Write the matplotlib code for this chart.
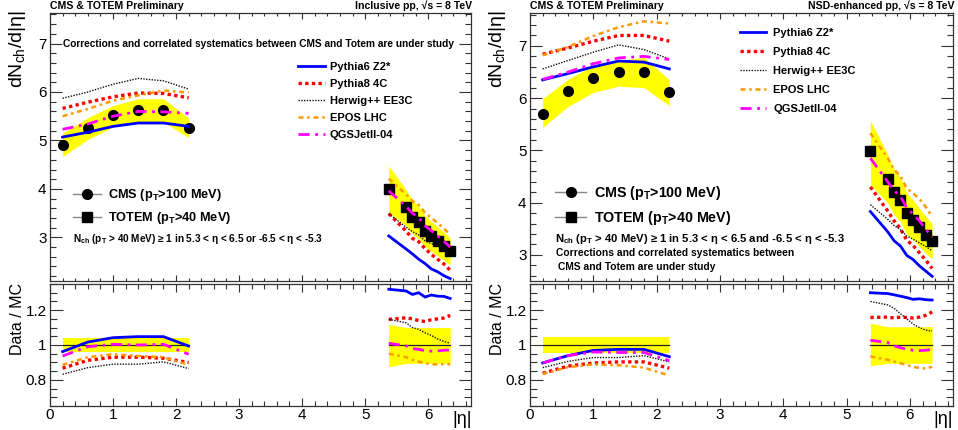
import matplotlib
matplotlib.use("Agg")
import matplotlib.pyplot as plt
from matplotlib.lines import Line2D
from matplotlib.ticker import MultipleLocator

plt.rcParams['font.family'] = ['Liberation Sans', 'DejaVu Sans']
plt.rcParams['mathtext.fontset'] = 'custom'
plt.rcParams['mathtext.rm'] = 'Liberation Sans'
plt.rcParams['mathtext.it'] = 'Liberation Sans:italic'
plt.rcParams['mathtext.bf'] = 'Liberation Sans:bold'

# ---- data ----
eta_cms = [0.2, 0.6, 1.0, 1.4, 1.8, 2.2]
eta_totem = [5.375, 5.65, 5.75, 5.85, 5.95, 6.05, 6.15, 6.25, 6.35]

model_names = ["Pythia6 Z2*", "Pythia8 4C", "Herwig++ EE3C", "EPOS LHC", "QGSJetII-04"]

# inclusive pp
incl_cms = [4.90, 5.26, 5.53, 5.62, 5.62, 5.26]
incl_cms_lo = [4.67, 5.02, 5.28, 5.38, 5.38, 5.06]
incl_cms_hi = [5.15, 5.47, 5.72, 5.86, 5.86, 5.46]
incl_totem = [4.00, 3.62, 3.43, 3.32, 3.14, 3.03, 2.93, 2.83, 2.72]
incl_totem_lo = [3.52, 3.24, 3.07, 2.97, 2.81, 2.71, 2.62, 2.53, 2.43]
incl_totem_hi = [4.48, 3.98, 3.77, 3.65, 3.45, 3.33, 3.22, 3.11, 2.99]

incl_mc_cms = [
    [5.07, 5.17, 5.29, 5.36, 5.36, 5.29],
    [5.66, 5.79, 5.90, 5.98, 5.97, 5.88],
    [5.87, 6.00, 6.16, 6.28, 6.23, 6.06],
    [5.50, 5.65, 5.82, 5.93, 6.03, 5.99],
    [5.23, 5.34, 5.50, 5.60, 5.59, 5.56],
]
incl_mc_totem = [
    [3.03, 2.76, 2.66, 2.55, 2.46, 2.35, 2.29, 2.21, 2.15],
    [3.49, 3.13, 2.98, 2.91, 2.77, 2.65, 2.55, 2.45, 2.32],
    [3.49, 3.21, 3.12, 3.05, 2.93, 2.87, 2.83, 2.77, 2.69],
    [4.21, 3.89, 3.75, 3.67, 3.51, 3.40, 3.30, 3.18, 3.06],
    [3.96, 3.64, 3.50, 3.41, 3.24, 3.14, 3.03, 2.92, 2.80],
]
incl_ratio_cms = [
    [0.962, 1.017, 1.042, 1.048, 1.048, 0.994],
    [0.867, 0.912, 0.930, 0.930, 0.924, 0.900],
    [0.832, 0.870, 0.890, 0.890, 0.903, 0.865],
    [0.886, 0.930, 0.947, 0.937, 0.930, 0.886],
    [0.937, 0.990, 1.004, 1.000, 1.004, 0.947],
]
incl_ratio_totem = [
    [1.320, 1.310, 1.290, 1.300, 1.275, 1.287, 1.280, 1.279, 1.267],
    [1.147, 1.156, 1.150, 1.140, 1.135, 1.145, 1.150, 1.155, 1.170],
    [1.147, 1.128, 1.100, 1.090, 1.070, 1.055, 1.035, 1.020, 1.010],
    [0.950, 0.930, 0.915, 0.905, 0.895, 0.890, 0.888, 0.890, 0.890],
    [1.010, 0.995, 0.980, 0.975, 0.968, 0.965, 0.966, 0.970, 0.972],
]
incl_rband_cms_lo = [0.957] * 6
incl_rband_cms_hi = [1.040] * 6
incl_rband_totem_lo = [0.875, 0.895, 0.895, 0.895, 0.895, 0.895, 0.895, 0.895, 0.895]
incl_rband_totem_hi = [1.118, 1.100, 1.100, 1.100, 1.100, 1.100, 1.100, 1.100, 1.100]

# NSD-enhanced pp
nsd_cms = [5.70, 6.13, 6.39, 6.50, 6.51, 6.11]
nsd_cms_lo = [5.44, 5.84, 6.11, 6.23, 6.20, 5.86]
nsd_cms_hi = [5.99, 6.36, 6.63, 6.72, 6.78, 6.35]
nsd_totem = [4.98, 4.46, 4.21, 4.06, 3.80, 3.67, 3.53, 3.39, 3.26]
nsd_totem_lo = [4.35, 3.99, 3.77, 3.63, 3.40, 3.28, 3.16, 3.03, 2.92]
nsd_totem_hi = [5.57, 4.92, 4.64, 4.48, 4.19, 4.05, 3.89, 3.74, 3.60]

nsd_mc_cms = [
    [6.35, 6.47, 6.60, 6.71, 6.69, 6.56],
    [6.84, 6.96, 7.09, 7.20, 7.20, 7.09],
    [6.56, 6.72, 6.88, 7.02, 6.93, 6.75],
    [6.82, 6.98, 7.19, 7.36, 7.47, 7.43],
    [6.36, 6.50, 6.66, 6.77, 6.80, 6.74],
]
nsd_mc_totem = [
    [3.83, 3.44, 3.27, 3.17, 2.99, 2.91, 2.79, 2.69, 2.59],
    [4.30, 3.84, 3.65, 3.50, 3.28, 3.18, 3.04, 2.90, 2.74],
    [3.96, 3.68, 3.56, 3.48, 3.36, 3.30, 3.23, 3.16, 3.08],
    [5.33, 4.85, 4.63, 4.51, 4.27, 4.18, 4.07, 3.92, 3.73],
    [4.85, 4.40, 4.23, 4.12, 3.90, 3.78, 3.65, 3.49, 3.34],
]
nsd_ratio_cms = [
    [0.897, 0.939, 0.969, 0.975, 0.975, 0.933],
    [0.838, 0.879, 0.897, 0.903, 0.903, 0.867],
    [0.870, 0.906, 0.928, 0.928, 0.939, 0.903],
    [0.834, 0.873, 0.888, 0.884, 0.870, 0.825],
    [0.897, 0.939, 0.960, 0.957, 0.957, 0.910],
]
nsd_ratio_totem = [
    [1.300, 1.295, 1.288, 1.280, 1.272, 1.262, 1.265, 1.260, 1.258],
    [1.158, 1.160, 1.155, 1.160, 1.158, 1.155, 1.160, 1.170, 1.190],
    [1.250, 1.230, 1.210, 1.180, 1.150, 1.120, 1.100, 1.085, 1.080],
    [0.935, 0.915, 0.905, 0.895, 0.885, 0.875, 0.868, 0.865, 0.875],
    [1.027, 1.014, 0.995, 0.985, 0.975, 0.970, 0.968, 0.970, 0.975],
]
nsd_rband_cms_lo = [0.955] * 6
nsd_rband_cms_hi = [1.045] * 6
nsd_rband_totem_lo = [0.880, 0.895, 0.895, 0.895, 0.895, 0.895, 0.895, 0.895, 0.895]
nsd_rband_totem_hi = [1.125, 1.105, 1.105, 1.105, 1.105, 1.105, 1.105, 1.105, 1.105]

# ---- styles ----
styles = [
    dict(color='#0000ff', ls='-', lw=2.0),
    dict(color='#ff0000', ls=(0, (1, 1)), lw=2.4),
    dict(color='#111111', ls=(0, (1, 1)), lw=1.0),
    dict(color='#ff9900', ls=(0, (2, 1.5, 1, 1.5)), lw=1.8),
    dict(color='#ff00ff', ls=(0, (4, 2, 1, 2)), lw=2.0),
]
YEL = '#ffff00'
W, H = 958, 430


def fx(x):
    return x / W


def fy(y):
    return 1 - y / H


def style_axes(ax, ymaj, ymin, ylen, xlen):
    ax.set_xlim(0, 6.68)
    ax.xaxis.set_major_locator(MultipleLocator(1))
    ax.xaxis.set_minor_locator(MultipleLocator(0.2))
    ax.yaxis.set_major_locator(MultipleLocator(ymaj))
    ax.yaxis.set_minor_locator(MultipleLocator(ymin))
    ax.tick_params(which='both', direction='in', top=True, right=True,
                   labelsize=11, width=0.8, color='#333333')
    ax.tick_params(axis='y', which='major', length=ylen[0], pad=2.5)
    ax.tick_params(axis='y', which='minor', length=ylen[1])
    ax.tick_params(axis='x', which='major', length=xlen[0], pad=1.5)
    ax.tick_params(axis='x', which='minor', length=xlen[1])
    for s in ax.spines.values():
        s.set_linewidth(0.9)
        s.set_color('#333333')


def draw_panel(x0, x1, ylo, d):
    axm = fig.add_axes([fx(x0), fy(281), fx(x1 - x0), 268 / H])
    axr = fig.add_axes([fx(x0), fy(406), fx(x1 - x0), 122 / H])

    # main pad
    axm.fill_between(eta_cms, d['cms_lo'], d['cms_hi'], color=YEL, lw=0)
    axm.fill_between(eta_totem, d['tot_lo'], d['tot_hi'], color=YEL, lw=0)
    axm.plot(eta_cms, d['cms'], 'o', color='black', ms=7, zorder=3)
    axm.plot(eta_totem, d['tot'], 's', color='black', ms=7.5, zorder=3)
    for i, st in enumerate(styles):
        axm.plot(eta_cms, d['mc_cms'][i], zorder=4, **st)
        axm.plot(eta_totem, d['mc_tot'][i], zorder=4, **st)
    axm.set_ylim(ylo, 7.63)
    style_axes(axm, 1, 0.2, (8.5, 4.5), (4, 2.5))
    axm.tick_params(labelbottom=False)

    # ratio pad
    axr.fill_between(eta_cms, d['rb_cms_lo'], d['rb_cms_hi'], color=YEL, lw=0)
    axr.fill_between(eta_totem, d['rb_tot_lo'], d['rb_tot_hi'], color=YEL, lw=0)
    axr.plot(eta_cms, [1] * len(eta_cms), color='#222222', lw=0.9, zorder=2)
    axr.plot(eta_totem, [1] * len(eta_totem), color='#222222', lw=0.9, zorder=2)
    for i, st in enumerate(styles):
        axr.plot(eta_cms, d['r_cms'][i], zorder=3, **st)
        axr.plot(eta_totem, d['r_tot'][i], zorder=3, **st)
    axr.set_ylim(0.65, 1.35)
    style_axes(axr, 0.2, 0.05, (9, 5), (6, 3.5))
    axr.yaxis.set_major_formatter(plt.FuncFormatter(lambda v, p: ('%g' % round(v, 2))))
    return axm, axr


fig = plt.figure(figsize=(9.58, 4.30), dpi=100)

incl = dict(cms=incl_cms, cms_lo=incl_cms_lo, cms_hi=incl_cms_hi,
            tot=incl_totem, tot_lo=incl_totem_lo, tot_hi=incl_totem_hi,
            mc_cms=incl_mc_cms, mc_tot=incl_mc_totem,
            r_cms=incl_ratio_cms, r_tot=incl_ratio_totem,
            rb_cms_lo=incl_rband_cms_lo, rb_cms_hi=incl_rband_cms_hi,
            rb_tot_lo=incl_rband_totem_lo, rb_tot_hi=incl_rband_totem_hi)
nsd = dict(cms=nsd_cms, cms_lo=nsd_cms_lo, cms_hi=nsd_cms_hi,
           tot=nsd_totem, tot_lo=nsd_totem_lo, tot_hi=nsd_totem_hi,
           mc_cms=nsd_mc_cms, mc_tot=nsd_mc_totem,
           r_cms=nsd_ratio_cms, r_tot=nsd_ratio_totem,
           rb_cms_lo=nsd_rband_cms_lo, rb_cms_hi=nsd_rband_cms_hi,
           rb_tot_lo=nsd_rband_totem_lo, rb_tot_hi=nsd_rband_totem_hi)

axm1, axr1 = draw_panel(50, 471, 2.1, incl)
axm2, axr2 = draw_panel(530, 953, 2.5, nsd)

# legends
mc_handles = [Line2D([], [], **st) for st in styles]
dat_handles = [
    Line2D([], [], color='#888888', lw=1, marker='o', mfc='black', mec='black', ms=7),
    Line2D([], [], color='#888888', lw=1, marker='s', mfc='black', mec='black', ms=7.5),
]
dat_labels = [r"CMS ($\mathbf{p_{T}}$>100 MeV)", r"TOTEM ($\mathbf{p_{T}}$>40 MeV)"]

leg = axm1.legend(mc_handles, model_names, loc='upper left',
                  bbox_to_anchor=((298 - 50) / 421, (281 - 62) / 268),
                  frameon=False, borderpad=0, borderaxespad=0, handlelength=2.4,
                  handletextpad=0.45, labelspacing=0.62,
                  prop=dict(weight='bold', size=8))
axm1.add_artist(leg)
axm1.legend(dat_handles, dat_labels, loc='upper left',
            bbox_to_anchor=((73 - 50) / 421, (281 - 187) / 268),
            frameon=False, borderpad=0, borderaxespad=0, handlelength=2.2,
            handletextpad=0.5, labelspacing=0.55,
            prop=dict(weight='bold', size=9.2))

leg = axm2.legend(mc_handles, model_names, loc='upper left',
                  bbox_to_anchor=((740 - 530) / 423, (281 - 28) / 268),
                  frameon=False, borderpad=0, borderaxespad=0, handlelength=2.3,
                  handletextpad=0.7, labelspacing=0.8,
                  prop=dict(weight='bold', size=8))
axm2.add_artist(leg)
axm2.legend(dat_handles, dat_labels, loc='upper left',
            bbox_to_anchor=((555 - 530) / 423, (281 - 184) / 268),
            frameon=False, borderpad=0, borderaxespad=0, handlelength=2.2,
            handletextpad=0.5, labelspacing=0.5,
            prop=dict(weight='bold', size=10.3))

# texts
bold = dict(weight='bold')
fig.text(fx(50), fy(6), "CMS & TOTEM Preliminary", size=7.6, va='center', **bold)
fig.text(fx(472), fy(6), "Inclusive pp, √s = 8 TeV", size=7.6, va='center', ha='right', **bold)
fig.text(fx(530), fy(6), "CMS & TOTEM Preliminary", size=7.6, va='center', **bold)
fig.text(fx(955), fy(6), "NSD-enhanced pp, √s = 8 TeV", size=7.6, va='center', ha='right', **bold)

fig.text(fx(63), fy(44), "Corrections and correlated systematics between CMS and Totem are under study",
         size=7.3, va='center', **bold)
fig.text(fx(73), fy(239), r"$\mathbf{N_{ch}}$ ($\mathbf{p_{T}}$ > 40 MeV) ≥ 1 in 5.3 < η < 6.5 or -6.5 < η < -5.3",
         size=7.2, va='center', **bold)
fig.text(fx(555), fy(239), r"$\mathbf{N_{ch}}$ ($\mathbf{p_{T}}$ > 40 MeV) ≥ 1 in 5.3 < η < 6.5 and -6.5 < η < -5.3",
         size=8.1, va='center', **bold)
fig.text(fx(556), fy(253), "Corrections and correlated systematics between", size=7.4, va='center', **bold)
fig.text(fx(558), fy(267), "CMS and Totem are under study", size=7.4, va='center', **bold)

for xl, xr in [(18, 472), (498, 953)]:
    fig.text(fx(xl), fy(10), r"dN$_{\mathrm{ch}}$/d|η|", size=14, rotation=90, ha='center', va='top')
    fig.text(fx(xl), fy(283), "Data / MC", size=11.5, rotation=90, ha='center', va='top')
    fig.text(fx(xr), fy(420), "|η|", size=13, ha='right', va='center')

fig.savefig("out.png", dpi=100)
